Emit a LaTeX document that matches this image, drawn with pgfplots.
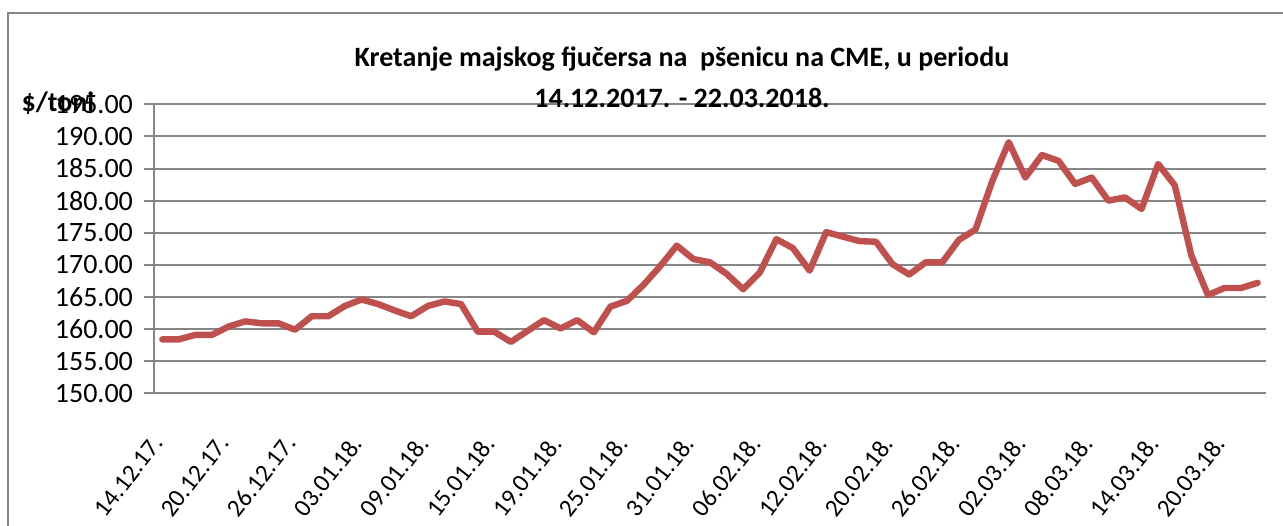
\documentclass[border=0pt]{standalone}
\usepackage{pgfplots}
\pgfplotsset{compat=1.18}
\usepackage{fontspec}
\setmainfont{Carlito}

\definecolor{linered}{RGB}{192,80,77}
\definecolor{gridgray}{RGB}{134,134,134}

\begin{document}
\begin{tikzpicture}
\useasboundingbox (-77pt,-65.85pt) rectangle (564.5pt,196.65pt);
\draw[gridgray, line width=1pt] (-73pt,-80pt) -- (-73pt,190.15pt) -- (580pt,190.15pt);
\begin{axis}[
    at={(0,0)}, anchor=south west,
    scale only axis,
    width=556pt, height=144.5pt,
    xmin=-0.5, xmax=66.5,
    ymin=150, ymax=195,
    ytick={150,155,...,195},
    xtick={0,4,...,64},
    xticklabels={14.12.17.,20.12.17.,26.12.17.,03.01.18.,09.01.18.,15.01.18.,19.01.18.,25.01.18.,31.01.18.,06.02.18.,12.02.18.,20.02.18.,26.02.18.,02.03.18.,08.03.18.,14.03.18.,20.03.18.},
    axis x line=bottom, axis y line=left,
    axis line style={gridgray, line width=1pt, -},
    tick align=outside,
    major tick length=5pt,
    tick style={gridgray, line width=1pt},
    xtick style={draw=none},
    ymajorgrids,
    grid style={gridgray, line width=1pt},
    /pgf/number format/assume math mode=true,
    /pgf/number format/.cd, fixed, fixed zerofill, precision=2, 1000 sep={},
    /pgfplots/.cd,
    yticklabel style={font=\fontsize{14}{16}\selectfont, xshift=-2pt},
    xticklabel style={font=\fontsize{12.5}{15}\selectfont, xshift=0pt, yshift=-15pt, rotate=52, anchor=east},
    ]
\addplot[linered, line width=3.2pt, line join=round, line cap=round] coordinates {
(0,158.4) (1,158.4) (2,159.1) (3,159.1) (4,160.4) (5,161.2) (6,160.9) (7,160.9)
(8,159.9) (9,162.0) (10,162.0) (11,163.6) (12,164.6) (13,163.9) (14,162.9) (15,162.0)
(16,163.6) (17,164.3) (18,163.9) (19,159.6) (20,159.6) (21,158.0) (22,159.7) (23,161.4)
(24,160.1) (25,161.4) (26,159.5) (27,163.5) (28,164.4) (29,166.9) (30,169.8) (31,173.0)
(32,170.9) (33,170.4) (34,168.6) (35,166.2) (36,168.8) (37,174.0) (38,172.6) (39,169.1)
(40,175.1) (41,174.4) (42,173.7) (43,173.6) (44,170.1) (45,168.5) (46,170.4) (47,170.4)
(48,173.9) (49,175.5) (50,183.0) (51,189.1) (52,183.6) (53,187.1) (54,186.2) (55,182.6)
(56,183.6) (57,180.0) (58,180.5) (59,178.7) (60,185.7) (61,182.4) (62,171.5) (63,165.3)
(64,166.4) (65,166.4) (66,167.2)
};
\end{axis}
\node[font=\bfseries\fontsize{14}{20.5}\selectfont, align=center] at (264pt,158pt)
  {Kretanje majskog fjučersa na\ \ pšenicu na CME, u periodu\\14.12.2017. - 22.03.2018.};
\node[font=\bfseries\fontsize{14}{16}\selectfont] at (-48pt,145.15pt) {\$/toni};
\end{tikzpicture}
\end{document}
